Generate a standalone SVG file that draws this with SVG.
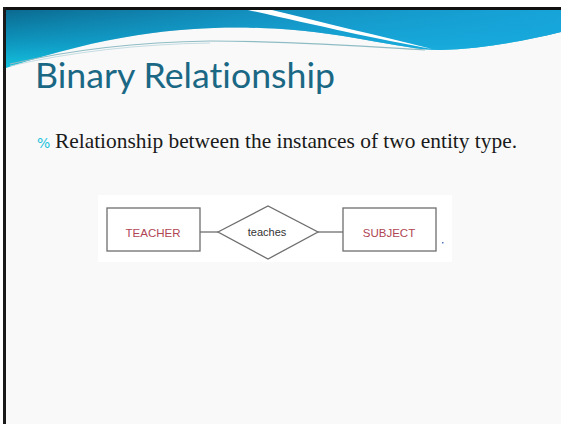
<svg xmlns="http://www.w3.org/2000/svg" width="561" height="424" viewBox="0 0 561 424">
  <defs>
    <linearGradient id="hdr" x1="0" y1="0" x2="0.25" y2="1">
      <stop offset="0" stop-color="#0b6a90"/>
      <stop offset="0.55" stop-color="#0e98c0"/>
      <stop offset="1" stop-color="#15c8e2"/>
    </linearGradient>
    <linearGradient id="hdrRight" x1="0" y1="0" x2="1" y2="0">
      <stop offset="0" stop-color="#1aa6dc" stop-opacity="0"/>
      <stop offset="0.45" stop-color="#1aa6dc" stop-opacity="0.55"/>
      <stop offset="1" stop-color="#18a8de" stop-opacity="0.9"/>
    </linearGradient>
    <style>
      .ent { fill: none; stroke: #6e6e6e; stroke-width: 1.3; }
      .conn { stroke: #6e6e6e; stroke-width: 1.3; fill: none; }
      .etext { font-family: "Liberation Sans", Arial, sans-serif; font-size: 11.5px; fill: #b04554; text-anchor: middle; }
      .rtext { font-family: "Liberation Sans", Arial, sans-serif; font-size: 11px; fill: #333333; text-anchor: middle; }
    </style>
  </defs>

  <!-- page margin and slide frame -->
  <rect x="0" y="0" width="561" height="424" fill="#ffffff"/>
  <rect x="4" y="8" width="557" height="416" fill="#f9f9f9"/>

  <!-- header band -->
  <path d="M6,10 H561 V32 C520,42 480,49 440,50 C400,50 340,30 260,28 C200,26 120,30 6,68 Z" fill="url(#hdr)"/>
  <path d="M6,10 H561 V32 C520,42 480,49 440,50 C400,50 340,30 260,28 C200,26 120,30 6,68 Z" fill="url(#hdrRight)"/>
  <!-- white swoosh -->
  <path d="M248,10 L272,10 C320,22 380,36 432,49 C380,40 310,24 248,10 Z" fill="#ffffff"/>
  <!-- thin accent line -->
  <path d="M10,64 C70,50 140,42 210,41 C290,41 360,46 425,50" fill="none" stroke="#8fbcc4" stroke-width="1.2"/>
  <path d="M10,66 C70,52 140,44 210,43" fill="none" stroke="#b8d6dc" stroke-width="0.8"/>

  <!-- frame lines -->
  <rect x="3" y="7" width="558" height="3" fill="#111111"/>
  <rect x="3" y="7" width="3" height="417" fill="#1a1a1a"/>

  <!-- title -->
  <text x="35" y="88" font-family="Lato, 'Open Sans', sans-serif" font-size="34" fill="#1b6885" style="font-variant-ligatures: none" textLength="300" lengthAdjust="spacingAndGlyphs">Binary Relationship</text>

  <!-- bullet line -->
  <text x="37" y="148" font-family="'DejaVu Sans', sans-serif" font-size="14" fill="#22c4dc">%</text>
  <text x="55" y="148" font-family="'Liberation Serif', 'Times New Roman', serif" font-size="21" fill="#1a1a1a" textLength="462" lengthAdjust="spacingAndGlyphs">Relationship between the instances of two entity type.</text>

  <!-- diagram backdrop -->
  <rect x="98" y="195" width="354" height="67" fill="#ffffff"/>

  <!-- connectors -->
  <g id="connectors">
    <line class="conn" x1="200" y1="232" x2="218" y2="232"/>
    <line class="conn" x1="318" y1="232" x2="343" y2="232"/>
  </g>

  <g id="teacher">
    <rect class="ent" x="107" y="208" width="93" height="43"/>
    <text class="etext" x="153" y="237">TEACHER</text>
  </g>

  <g id="teaches">
    <polygon class="ent" points="218,232 268,206 318,232 268,259"/>
    <text class="rtext" x="267" y="236">teaches</text>
  </g>

  <g id="subject">
    <rect class="ent" x="343" y="208" width="93" height="43"/>
    <text class="etext" x="389" y="237">SUBJECT</text>
  </g>

  <rect x="442" y="242" width="1.5" height="1.5" fill="#5577bb"/>
</svg>
